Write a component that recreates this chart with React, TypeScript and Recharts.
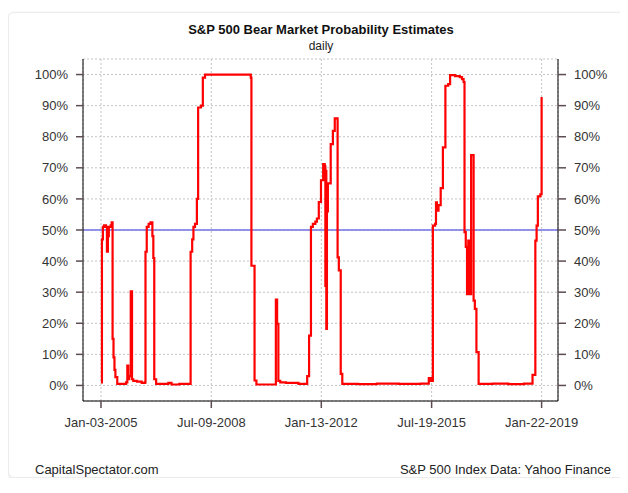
import { LineChart, Line, XAxis, YAxis, CartesianGrid, ReferenceLine } from "recharts";

// x positions are decimal years
const TICK_YEARS = [2005.0, 2008.52, 2012.03, 2015.55, 2019.06];
const TICK_LABELS = ["Jan-03-2005", "Jul-09-2008", "Jan-13-2012", "Jul-19-2015", "Jan-22-2019"];
const PCT_TICKS = [0, 10, 20, 30, 40, 50, 60, 70, 80, 90, 100];

const DATES = [
  2005.0, 2005.03, 2005.06, 2005.1, 2005.16, 2005.19, 2005.22, 2005.25, 2005.31, 2005.34,
  2005.37, 2005.4, 2005.43, 2005.46, 2005.52, 2005.8, 2005.84, 2005.87, 2005.9, 2005.95,
  2005.99, 2006.03, 2006.15, 2006.3, 2006.4, 2006.42, 2006.46, 2006.52, 2006.58, 2006.64,
  2006.67, 2006.7, 2006.76, 2007.15, 2007.25, 2007.5, 2007.86, 2007.91, 2007.95, 2008.0,
  2008.06, 2008.1, 2008.19, 2008.25, 2008.32, 2009.78, 2009.8, 2009.9, 2009.96, 2010.58,
  2010.62, 2010.66, 2010.72, 2010.9, 2011.3, 2011.58, 2011.64, 2011.7, 2011.76, 2011.84,
  2011.89, 2011.95, 2012.02, 2012.09, 2012.14, 2012.16, 2012.175, 2012.19, 2012.21, 2012.24,
  2012.33, 2012.4, 2012.46, 2012.55, 2012.59, 2012.65, 2012.7, 2013.2, 2013.8, 2014.5,
  2015.2, 2015.46, 2015.52, 2015.59, 2015.66, 2015.69, 2015.72, 2015.77, 2015.84, 2015.91,
  2015.99, 2016.08, 2016.14, 2016.3, 2016.45, 2016.52, 2016.57, 2016.6, 2016.64, 2016.68,
  2016.69, 2016.71, 2016.72, 2016.74, 2016.76, 2016.78, 2016.81, 2016.89, 2016.93, 2016.98,
  2017.05, 2017.5, 2018.0, 2018.5, 2018.77, 2018.86, 2018.9, 2018.94, 2019.02, 2019.06,
];

const PROBS = [
  1, 47, 51, 51.5, 51, 43, 48, 51, 51.5, 52.5,
  15, 9, 5, 2.7, 0.5, 1, 6.4, 2, 3, 30.3,
  2, 1.5, 1.2, 0.8, 1, 43, 51, 52, 52.5, 48,
  41, 2, 0.5, 0.8, 0.3, 0.5, 43, 47, 51, 52,
  60, 89.4, 90, 99, 100, 99, 38.5, 1.6, 0.3, 27.6,
  19.8, 1.5, 1, 0.8, 0.5, 3, 16, 51, 52, 52.7,
  53.7, 59, 66, 71.2, 70.5, 32, 69, 18.2, 56, 65,
  77.6, 81.9, 85.9, 41.2, 37, 3.7, 0.5, 0.4, 0.6, 0.5,
  0.6, 2.4, 1.5, 51.4, 52, 58.9, 56.2, 58, 63.5, 76.6,
  96.4, 96.9, 99.8, 99.5, 99.2, 98.5, 97.6, 49.3, 44.6, 29.4,
  44, 29.4, 46.6, 29.4, 46, 29.4, 74.1, 27.3, 24.6, 10.7,
  0.5, 0.6, 0.4, 0.6, 3.4, 46.6, 51.4, 60.8, 61.5, 92.8,
];

const data = DATES.map((t, i) => ({ t, p: PROBS[i] }));

const FONT = "'Liberation Sans', Arial, sans-serif";
const tickStyle = { fill: "#333", fontSize: 13, fontFamily: FONT };
const tickLineStyle = { stroke: "#5c4c50", strokeWidth: 1.5 };

export default function App() {
  return (
    <div
      style={{
        position: "relative",
        marginTop: 4,
        width: 622,
        height: 466,
        background: "#fff",
        border: "1px solid #ececec",
        borderRadius: 6,
        boxShadow: "0 1px 3px rgba(0,0,0,0.12)",
        fontFamily: FONT,
        boxSizing: "border-box",
      }}
    >
      <div style={{ position: "absolute", left: 0, width: 624, top: 9, textAlign: "center", fontSize: 13, fontWeight: "bold", lineHeight: "16px", color: "#111" }}>
        S&amp;P 500 Bear Market Probability Estimates
      </div>
      <div style={{ position: "absolute", left: 0, width: 624, top: 26, textAlign: "center", fontSize: 12, lineHeight: "14px", color: "#222" }}>
        daily
      </div>
      <div style={{ position: "absolute", left: 26, top: 449, fontSize: 13, lineHeight: "16px", color: "#222" }}>
        CapitalSpectator.com
      </div>
      <div style={{ position: "absolute", right: 18, top: 449, fontSize: 13, lineHeight: "16px", color: "#222" }}>
        S&amp;P 500 Index Data: Yahoo Finance
      </div>
      <div style={{ position: "absolute", left: -1, top: -1 }}>
        <LineChart width={620} height={466} data={data} margin={{ top: 47, right: 20, left: 25, bottom: 37 }}>
          <CartesianGrid
            yAxisId="left"
            stroke="#c4c4c4"
            strokeDasharray="2 2"
            verticalPoints={undefined}
          />
          <XAxis
            dataKey="t"
            type="number"
            domain={[2004.426, 2019.583]}
            allowDataOverflow
            ticks={TICK_YEARS}
            tickFormatter={(v: number) => TICK_LABELS[TICK_YEARS.indexOf(v)] ?? ""}
            tick={tickStyle}
            tickSize={7}
            tickMargin={10}
            tickLine={tickLineStyle}
            axisLine={{ stroke: "#000" }}
            height={40}
            interval={0}
          />
          <XAxis
            xAxisId="top"
            dataKey="t"
            type="number"
            orientation="top"
            domain={[2004.426, 2019.583]}
            allowDataOverflow
            tick={false}
            tickLine={false}
            axisLine={{ stroke: "#000" }}
            height={0}
          />
          <YAxis
            yAxisId="left"
            domain={[-5, 105]}
            allowDataOverflow
            ticks={PCT_TICKS}
            tickFormatter={(v: number) => `${v}%`}
            tick={tickStyle}
            tickSize={7}
            tickMargin={8}
            tickLine={tickLineStyle}
            axisLine={{ stroke: "#000" }}
            width={50}
            interval={0}
          />
          <YAxis
            yAxisId="right"
            orientation="right"
            domain={[-5, 105]}
            allowDataOverflow
            ticks={PCT_TICKS}
            tickFormatter={(v: number) => `${v}%`}
            tick={tickStyle}
            tickSize={8}
            tickMargin={8}
            tickLine={tickLineStyle}
            axisLine={{ stroke: "#000" }}
            width={50}
            interval={0}
          />
          <ReferenceLine yAxisId="left" y={50} stroke="#7272e6" strokeWidth={1.5} />
          <Line
            yAxisId="left"
            type="stepAfter"
            dataKey="p"
            stroke="#ff0000"
            strokeWidth={2.2}
            dot={false}
            isAnimationActive={false}
          />
        </LineChart>
      </div>
    </div>
  );
}
